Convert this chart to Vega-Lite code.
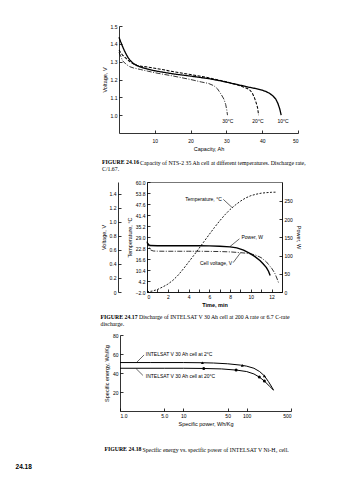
{
 "$schema": "https://vega.github.io/schema/vega-lite/v6.json",
 "background": "white",
 "padding": {"left": 15, "top": 24, "right": 5, "bottom": 5},
 "config": {
  "view": {"stroke": null},
  "font": "Liberation Sans",
  "axis": {"labelFontSize": 5, "titleFontSize": 5.5, "labelFont": "Liberation Sans", "titleFont": "Liberation Sans", "titleFontWeight": "normal", "labelColor": "black", "titleColor": "black", "domainColor": "black", "tickColor": "black", "domainWidth": 0.8, "tickWidth": 0.8, "tickSize": -3, "labelPadding": 5, "grid": false, "titlePadding": 3, "labelOverlap": false},
  "title": {"font": "Liberation Serif", "fontSize": 5.8, "fontWeight": "normal", "color": "black", "anchor": "start", "orient": "bottom"},
  "concat": {"spacing": 6}
 },
 "datasets": {
  "f1": [
   {"temp":"10°C","cap":0,"v":1.437},{"temp":"10°C","cap":0.5,"v":1.41},{"temp":"10°C","cap":1,"v":1.385},{"temp":"10°C","cap":1.5,"v":1.362},{"temp":"10°C","cap":2,"v":1.342},{"temp":"10°C","cap":2.5,"v":1.324},{"temp":"10°C","cap":3,"v":1.31},{"temp":"10°C","cap":4,"v":1.29},{"temp":"10°C","cap":5,"v":1.278},{"temp":"10°C","cap":6,"v":1.27},{"temp":"10°C","cap":7,"v":1.264},{"temp":"10°C","cap":8,"v":1.258},{"temp":"10°C","cap":10,"v":1.249},{"temp":"10°C","cap":12,"v":1.242},{"temp":"10°C","cap":15,"v":1.232},{"temp":"10°C","cap":20,"v":1.219},{"temp":"10°C","cap":25,"v":1.205},{"temp":"10°C","cap":28,"v":1.194},{"temp":"10°C","cap":30,"v":1.185},{"temp":"10°C","cap":33,"v":1.172},{"temp":"10°C","cap":36,"v":1.158},{"temp":"10°C","cap":38,"v":1.15},{"temp":"10°C","cap":40,"v":1.14},{"temp":"10°C","cap":41,"v":1.133},{"temp":"10°C","cap":42,"v":1.123},{"temp":"10°C","cap":43,"v":1.108},{"temp":"10°C","cap":43.8,"v":1.09},{"temp":"10°C","cap":44.4,"v":1.065},{"temp":"10°C","cap":44.9,"v":1.035},{"temp":"10°C","cap":45.3,"v":1.0},
   {"temp":"20°C","cap":0,"v":1.365},{"temp":"20°C","cap":0.5,"v":1.35},{"temp":"20°C","cap":1,"v":1.337},{"temp":"20°C","cap":2,"v":1.318},{"temp":"20°C","cap":3,"v":1.3},{"temp":"20°C","cap":4,"v":1.288},{"temp":"20°C","cap":5,"v":1.28},{"temp":"20°C","cap":6,"v":1.275},{"temp":"20°C","cap":8,"v":1.27},{"temp":"20°C","cap":10,"v":1.263},{"temp":"20°C","cap":15,"v":1.245},{"temp":"20°C","cap":20,"v":1.228},{"temp":"20°C","cap":25,"v":1.21},{"temp":"20°C","cap":30,"v":1.187},{"temp":"20°C","cap":33,"v":1.17},{"temp":"20°C","cap":35,"v":1.156},{"temp":"20°C","cap":36.4,"v":1.144},{"temp":"20°C","cap":37.2,"v":1.125},{"temp":"20°C","cap":37.8,"v":1.1},{"temp":"20°C","cap":38.3,"v":1.07},{"temp":"20°C","cap":38.7,"v":1.043},{"temp":"20°C","cap":39,"v":1.0},
   {"temp":"30°C","cap":0,"v":1.352},{"temp":"30°C","cap":0.5,"v":1.33},{"temp":"30°C","cap":1,"v":1.305},{"temp":"30°C","cap":2,"v":1.285},{"temp":"30°C","cap":3,"v":1.272},{"temp":"30°C","cap":4,"v":1.265},{"temp":"30°C","cap":6,"v":1.256},{"temp":"30°C","cap":8,"v":1.247},{"temp":"30°C","cap":10,"v":1.238},{"temp":"30°C","cap":15,"v":1.22},{"temp":"30°C","cap":20,"v":1.2},{"temp":"30°C","cap":23,"v":1.186},{"temp":"30°C","cap":25,"v":1.178},{"temp":"30°C","cap":26.5,"v":1.165},{"temp":"30°C","cap":27.5,"v":1.148},{"temp":"30°C","cap":28.5,"v":1.118},{"temp":"30°C","cap":29.3,"v":1.09},{"temp":"30°C","cap":29.8,"v":1.06},{"temp":"30°C","cap":30.1,"v":1.03},{"temp":"30°C","cap":30.3,"v":1.0}
  ],
  "f1lab": [{"label":"30°C","cap":30.4,"v":0.968},{"label":"20°C","cap":38.8,"v":0.968},{"label":"10°C","cap":45.8,"v":0.968}],
  "f2temp": [
   {"t":0,"temp":-1.8},{"t":0.5,"temp":-1.5},{"t":1,"temp":-0.6},{"t":1.5,"temp":0.8},{"t":2,"temp":2.4},{"t":2.5,"temp":4.6},{"t":3,"temp":7.5},{"t":3.5,"temp":11},{"t":4,"temp":14.8},{"t":4.5,"temp":18.6},{"t":5,"temp":22.5},{"t":5.5,"temp":26.5},{"t":6,"temp":30.5},{"t":6.5,"temp":34.4},{"t":7,"temp":38.1},{"t":7.5,"temp":41.5},{"t":8,"temp":44.5},{"t":8.5,"temp":47},{"t":9,"temp":49.2},{"t":9.5,"temp":51},{"t":10,"temp":52.3},{"t":10.5,"temp":53.1},{"t":11,"temp":53.7},{"t":11.5,"temp":54},{"t":12,"temp":54.2},{"t":12.5,"temp":54.3}
  ],
  "f2tempLead": [{"t":7.35,"temp":50.2,"t2":8.2,"temp2":45.6}],
  "f2tempLab": [{"t":7.2,"temp":50.6,"label":"Temperature, °C"}],
  "f2pow": [
   {"t":0,"w":136},{"t":0.15,"w":130},{"t":0.3,"w":127.5},{"t":1,"w":127},{"t":2,"w":127},{"t":3,"w":127},{"t":4,"w":127},{"t":5,"w":127},{"t":6,"w":126.5},{"t":7,"w":125.5},{"t":8,"w":124},{"t":8.65,"w":121},{"t":9.3,"w":115},{"t":9.9,"w":106},{"t":10.4,"w":97},{"t":10.9,"w":86},{"t":11.2,"w":77},{"t":11.5,"w":67},{"t":11.7,"w":57},{"t":11.86,"w":45}
  ],
  "f2powLead": [{"t":8.9,"w":146,"t2":8.0,"w2":125}],
  "f2powLab": [{"t":9.1,"w":150,"label":"Power, W"}],
  "f2volt": [
   {"t":0,"v":0.72},{"t":0.15,"v":0.66},{"t":0.35,"v":0.6},{"t":0.6,"v":0.586},{"t":1,"v":0.583},{"t":2,"v":0.582},{"t":3,"v":0.582},{"t":4,"v":0.582},{"t":5,"v":0.582},{"t":6,"v":0.58},{"t":7,"v":0.578},{"t":8,"v":0.573},{"t":9,"v":0.562},{"t":9.5,"v":0.555},{"t":10,"v":0.545},{"t":10.5,"v":0.525},{"t":11,"v":0.49},{"t":11.5,"v":0.43},{"t":12,"v":0.34},{"t":12.3,"v":0.27},{"t":12.5,"v":0.2},{"t":12.7,"v":0.12}
  ],
  "f2voltLead": [{"t":8.3,"v":0.42,"t2":9.0,"v2":0.56}],
  "f2voltLab": [{"t":8.2,"v":0.41,"label":"Cell voltage, V"}],
  "f3": [
   {"s":"2°C","p":1,"e":51},{"s":"2°C","p":3,"e":51},{"s":"2°C","p":10,"e":51},{"s":"2°C","p":20,"e":50.8},{"s":"2°C","p":30,"e":50.5},{"s":"2°C","p":50,"e":49.7},{"s":"2°C","p":80,"e":48.3},{"s":"2°C","p":100,"e":47.2},{"s":"2°C","p":130,"e":45},{"s":"2°C","p":160,"e":41.5},{"s":"2°C","p":190,"e":37},{"s":"2°C","p":220,"e":31},{"s":"2°C","p":250,"e":25},{"s":"2°C","p":265,"e":22},
   {"s":"20°C","p":1,"e":45},{"s":"20°C","p":5,"e":45},{"s":"20°C","p":10,"e":45},{"s":"20°C","p":20,"e":44.8},{"s":"20°C","p":40,"e":44.3},{"s":"20°C","p":70,"e":43},{"s":"20°C","p":100,"e":41.5},{"s":"20°C","p":130,"e":39},{"s":"20°C","p":160,"e":35.5},{"s":"20°C","p":190,"e":31.5},{"s":"20°C","p":230,"e":26},{"s":"20°C","p":265,"e":22}
  ],
  "f3pts": [
   {"s":"2°C","p":20,"e":50.8},{"s":"2°C","p":85,"e":48},{"s":"2°C","p":190,"e":37},
   {"s":"20°C","p":21,"e":44.8},{"s":"20°C","p":68,"e":43.1},{"s":"20°C","p":158,"e":35.7},{"s":"20°C","p":190,"e":31.5}
  ],
  "f3lead": [{"p":2.4,"e":59,"p2":1.85,"e2":51.5},{"p":2.3,"e":37.5,"p2":1.8,"e2":44.5}],
  "f3lab": [{"p":2.55,"e":60,"label":"INTELSAT V 30 Ah cell at 2°C"},{"p":2.55,"e":36.8,"label":"INTELSAT V 30 Ah cell at 20°C"}]
 },
 "title": {"text": "24.18", "font": "Liberation Sans", "fontWeight": "bold", "fontSize": 6.5, "dx": -85, "offset": 12, "anchor": "start", "orient": "bottom"},
 "vconcat": [
  {
   "title": {"text": "C/1.67.", "offset": 1},
   "vconcat": [{
    "title": {"text": "FIGURE 24.16", "fontWeight": "bold", "dy": -6, "offset": 0},
    "vconcat": [{
     "width": 151, "height": 107,
     "title": {"text": "Capacity of NTS-2 35 Ah cell at different temperatures. Discharge rate,", "dx": 38, "offset": 8},
     "layer": [
      {"data": {"name": "f1"}, "mark": {"type": "line", "color": "black"},
       "encoding": {
        "x": {"field": "cap", "type": "quantitative", "scale": {"domain": [0, 50], "nice": false, "range": [-28, 151]}, "axis": {"title": "Capacity, Ah", "values": [10, 20, 30, 40, 50], "tickCount": 20, "format": "d", "labelPadding": 8}},
        "y": {"field": "v", "type": "quantitative", "scale": {"domain": [0.9, 1.5], "nice": false, "zero": false}, "axis": {"title": "Voltage, V", "offset": 28, "values": [1.0, 1.1, 1.2, 1.3, 1.4, 1.5], "tickCount": 20, "format": ".1f"}},
        "strokeDash": {"field": "temp", "type": "nominal", "scale": {"domain": ["10°C", "20°C", "30°C"], "range": [[1, 0], [3, 1.5], [5, 1.5, 1, 1.5]]}, "legend": null},
        "strokeWidth": {"field": "temp", "type": "nominal", "scale": {"domain": ["10°C", "20°C", "30°C"], "range": [1.3, 0.8, 0.8]}, "legend": null}
       }},
      {"data": {"name": "f1lab"}, "mark": {"type": "text", "fontSize": 5, "font": "Liberation Sans", "baseline": "middle"},
       "encoding": {"x": {"field": "cap", "type": "quantitative"}, "y": {"field": "v", "type": "quantitative"}, "text": {"field": "label"}}}
     ]
    }]
   }]
  },
  {
   "title": {"text": "discharge.", "offset": 1},
   "vconcat": [{
    "title": {"text": "FIGURE 24.17", "fontWeight": "bold", "dy": -6, "offset": 0},
    "vconcat": [{
     "width": 135, "height": 110,
     "view": {"stroke": "#777", "strokeWidth": 1},
     "title": {"text": "Discharge of INTELSAT V 30 Ah cell at 200 A rate or 6.7 C-rate", "dx": 38, "offset": 6},
     "resolve": {"scale": {"y": "independent"}},
     "layer": [
      {
       "encoding": {
        "x": {"field": "t", "type": "quantitative", "scale": {"domain": [0, 13], "nice": false}, "axis": {"title": "Time, min", "titleFontWeight": "bold", "values": [0, 1, 2, 3, 4, 5, 6, 7, 8, 9, 10, 11, 12], "tickCount": 30, "labelExpr": "datum.value % 2 == 0 ? format(datum.value, 'd') : ''"}},
        "y": {"field": "temp", "type": "quantitative", "scale": {"domain": [-2, 60], "nice": false, "zero": false}, "axis": {"orient": "left", "title": "Temperature, °C", "values": [-2, 4.2, 10.4, 16.6, 22.8, 29, 35.2, 41.4, 47.6, 53.8, 60], "tickCount": 20, "format": ".1f"}}
       },
       "layer": [
        {"data": {"name": "f2temp"}, "mark": {"type": "line", "color": "black", "strokeWidth": 0.9, "strokeDash": [2, 1.5]}},
        {"data": {"name": "f2tempLead"}, "mark": {"type": "rule", "color": "black", "strokeWidth": 0.6}, "encoding": {"x2": {"field": "t2"}, "y2": {"field": "temp2"}}},
        {"data": {"name": "f2tempLab"}, "mark": {"type": "text", "fontSize": 5, "font": "Liberation Sans", "align": "right", "baseline": "middle"}, "encoding": {"text": {"field": "label"}}}
       ]
      },
      {
       "encoding": {
        "x": {"field": "t", "type": "quantitative", "scale": {"domain": [0, 13], "nice": false}, "axis": {"title": "Time, min", "titleFontWeight": "bold", "values": [0, 1, 2, 3, 4, 5, 6, 7, 8, 9, 10, 11, 12], "tickCount": 30, "labelExpr": "datum.value % 2 == 0 ? format(datum.value, 'd') : ''"}},
        "y": {"field": "w", "type": "quantitative", "scale": {"domain": [0, 302], "nice": false}, "axis": {"orient": "right", "title": "Power, W", "values": [0, 50, 100, 150, 200, 250], "tickCount": 20, "format": "d"}}
       },
       "layer": [
        {"data": {"name": "f2pow"}, "mark": {"type": "line", "color": "black", "strokeWidth": 1.4}},
        {"data": {"name": "f2powLead"}, "mark": {"type": "rule", "color": "black", "strokeWidth": 0.6}, "encoding": {"x2": {"field": "t2"}, "y2": {"field": "w2"}}},
        {"data": {"name": "f2powLab"}, "mark": {"type": "text", "fontSize": 5, "font": "Liberation Sans", "align": "left", "baseline": "middle"}, "encoding": {"text": {"field": "label"}}}
       ]
      },
      {
       "encoding": {
        "x": {"field": "t", "type": "quantitative", "scale": {"domain": [0, 13], "nice": false}, "axis": {"title": "Time, min", "titleFontWeight": "bold", "values": [0, 1, 2, 3, 4, 5, 6, 7, 8, 9, 10, 11, 12], "tickCount": 30, "labelExpr": "datum.value % 2 == 0 ? format(datum.value, 'd') : ''"}},
        "y": {"field": "v", "type": "quantitative", "scale": {"domain": [0, 1.5714], "nice": false}, "axis": {"orient": "left", "offset": 29, "title": "Voltage, V", "values": [0, 0.2, 0.4, 0.6, 0.8, 1.0, 1.2, 1.4], "tickCount": 20, "labelExpr": "datum.value == 0 ? '0' : format(datum.value, '.1f')"}}
       },
       "layer": [
        {"data": {"name": "f2volt"}, "mark": {"type": "line", "color": "black", "strokeWidth": 0.8, "strokeDash": [5, 1.5, 1, 1.5]}},
        {"data": {"name": "f2voltLead"}, "mark": {"type": "rule", "color": "black", "strokeWidth": 0.6}, "encoding": {"x2": {"field": "t2"}, "y2": {"field": "v2"}}},
        {"data": {"name": "f2voltLab"}, "mark": {"type": "text", "fontSize": 5, "font": "Liberation Sans", "align": "right", "baseline": "middle"}, "encoding": {"text": {"field": "label"}}}
       ]
      }
     ]
    }]
   }]
  },
  {
   "title": {"text": "FIGURE 24.18", "fontWeight": "bold", "dy": -6, "offset": 0},
   "vconcat": [{
    "width": 144, "height": 76,
    "title": {"text": "Specific energy vs. specific power of INTELSAT V Ni-H₂ cell.", "dx": 38, "offset": 20},
    "encoding": {
     "x": {"field": "p", "type": "quantitative", "scale": {"type": "log", "domain": [1, 500], "nice": false, "range": [-27, 144]}, "axis": {"title": "Specific power, Wh/Kg", "values": [1, 5, 10, 50, 100, 500], "tickCount": 20, "labelExpr": "datum.value < 10 ? format(datum.value, '.1f') : format(datum.value, 'd')"}},
     "y": {"field": "e", "type": "quantitative", "scale": {"domain": [0, 80], "nice": false}, "axis": {"title": "Specific energy, Wh/Kg", "offset": 27, "values": [20, 40, 60, 80], "tickCount": 20, "format": "d"}}
    },
    "layer": [
     {"data": {"name": "f3"}, "mark": {"type": "line", "color": "black", "strokeWidth": 1}, "encoding": {"detail": {"field": "s"}}},
     {"data": {"name": "f3pts"}, "mark": {"type": "point", "filled": true, "color": "black", "size": 9, "opacity": 1},
      "encoding": {"shape": {"field": "s", "type": "nominal", "scale": {"domain": ["2°C", "20°C"], "range": ["triangle-up", "circle"]}, "legend": null}}},
     {"data": {"name": "f3lead"}, "mark": {"type": "rule", "color": "black", "strokeWidth": 0.6}, "encoding": {"x2": {"field": "p2"}, "y2": {"field": "e2"}}},
     {"data": {"name": "f3lab"}, "mark": {"type": "text", "fontSize": 5, "font": "Liberation Sans", "align": "left", "baseline": "middle"}, "encoding": {"text": {"field": "label"}}}
    ]
   }]
  }
 ]
}
